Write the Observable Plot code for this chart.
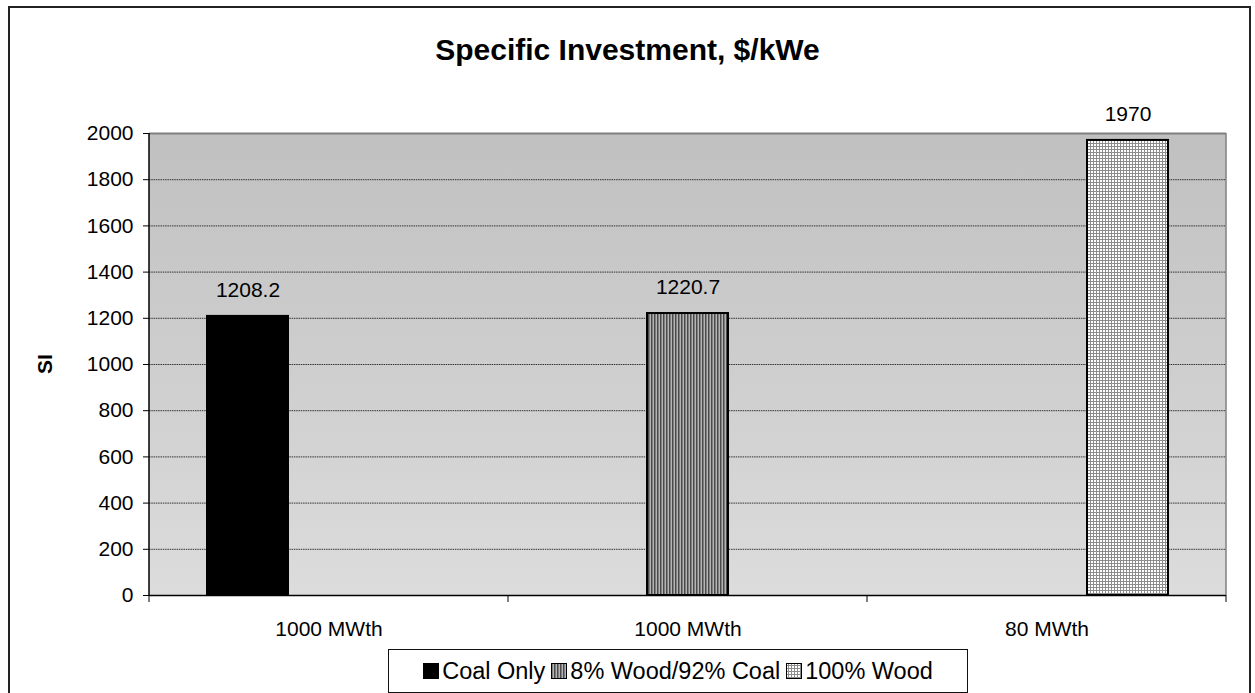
<!DOCTYPE html>
<html>
<head>
<meta charset="utf-8">
<script src="https://cdn.jsdelivr.net/npm/d3@7"></script>
<script src="https://cdn.jsdelivr.net/npm/@observablehq/plot@0.6"></script>
<style>
  body { margin: 0; background: #fff; font-family: "Liberation Sans", Arial, sans-serif; }
  #wrap { position: relative; width: 1255px; height: 693px; overflow: hidden; }
  #chart { position: absolute; left: 0; top: 0; }
  #frame { position: absolute; left: 8px; top: 6px; width: 1239px; height: 690px; border: 2px solid #222; pointer-events: none; }
  #title { position: absolute; left: 0; top: 33px; width: 1255px; text-align: center; font-weight: bold; font-size: 30px; color: #000; }
  #ylab { position: absolute; left: 45px; top: 364px; transform: translate(-50%, -50%) rotate(-90deg); font-weight: bold; font-size: 21px; color: #000; }
  #legend { position: absolute; left: 388px; top: 649px; width: 580px; height: 44px; border: 1px solid #111; box-sizing: border-box;
            display: flex; align-items: center; justify-content: center; font-size: 23.5px; color: #000; background: #fff; }
  .item { display: flex; align-items: center; margin: 0 3px; white-space: nowrap; }
  .item svg { margin-right: 3px; }
</style>
</head>
<body>
<div id="wrap">
  <div id="chart"></div>
  <div id="frame"></div>
  <div id="title">Specific Investment, $/kWe</div>
  <div id="ylab">SI</div>
  <div id="legend"></div>
</div>
<script>
// ---- data ----
const categories = ["1000 MWth", "1000 MWth", "80 MWth"];
const seriesNames = ["Coal Only", "8% Wood/92% Coal", "100% Wood"];
const coalOnly = [1208.2, null, null];
const wood8 = [null, 1220.7, null];
const wood100 = [null, null, 1970];
const yTickValues = [0, 200, 400, 600, 800, 1000, 1200, 1400, 1600, 1800, 2000];

const seriesValues = [coalOnly, wood8, wood100];
const seriesFills = ["#000000", "url(#pat-stripes)", "url(#pat-grid)"];
const catKeys = categories.map((c, i) => i);

const rows = [];
seriesValues.forEach((vals, s) => {
  vals.forEach((v, i) => {
    if (v != null) rows.push({ cat: i, series: seriesNames[s], s, value: v });
  });
});

const yMax = yTickValues[yTickValues.length - 1];

const plot = Plot.plot({
  width: 1255,
  height: 693,
  marginTop: 133,
  marginBottom: 98,
  marginLeft: 148,
  marginRight: 28,
  style: { fontFamily: '"Liberation Sans", Arial, sans-serif', fontSize: "21px", color: "#000", background: "transparent", overflow: "visible" },
  fx: { domain: catKeys, padding: 0, axis: "bottom", tickFormat: i => categories[i], tickSize: 0, tickPadding: 26, label: null },
  x: { domain: seriesNames, paddingInner: 0, paddingOuter: 0.7, axis: null },
  y: { domain: [0, yMax], ticks: yTickValues, tickSize: 6, tickPadding: 10, tickFormat: d => String(d), label: null },
  marks: [
    Plot.ruleY(yTickValues.filter(d => d > 0 && d < yMax), { stroke: "#333", strokeWidth: 1, strokeDasharray: "1.5,0.8" }),
    Plot.ruleY([yMax], { stroke: "#808080", strokeWidth: 2 }),
    ...seriesNames.map((name, s) =>
      Plot.barY(rows.filter(r => r.s === s), { fx: "cat", x: "series", y: "value", fill: seriesFills[s], stroke: "#000", strokeWidth: 2 })
    ),
    Plot.text(rows, { fx: "cat", x: "series", y: "value", text: d => String(d.value), dy: -26, fontSize: 21, fill: "#000" }),
    Plot.ruleY([0], { stroke: "#000", strokeWidth: 1.5 })
  ]
});

document.getElementById("chart").appendChild(plot);

// defs: gradient + patterns
const svg = d3.select(plot);
const defs = svg.insert("defs", ":first-child");
const grad = defs.append("linearGradient").attr("id", "bg-grad").attr("x1", 0).attr("y1", 0).attr("x2", 0).attr("y2", 1);
grad.append("stop").attr("offset", 0).attr("stop-color", "#c0c0c0");
grad.append("stop").attr("offset", 1).attr("stop-color", "#dcdcdc");

const p1 = defs.append("pattern").attr("id", "pat-stripes").attr("patternUnits", "userSpaceOnUse").attr("width", 3).attr("height", 4);
p1.append("rect").attr("width", 3).attr("height", 4).attr("fill", "#b4b4b4");
p1.append("rect").attr("width", 1.5).attr("height", 4).attr("fill", "#4a4a4a");

const p2 = defs.append("pattern").attr("id", "pat-grid").attr("patternUnits", "userSpaceOnUse").attr("width", 3).attr("height", 3);
p2.append("rect").attr("width", 3).attr("height", 3).attr("fill", "#8c8c8c");
p2.append("rect").attr("width", 2).attr("height", 2).attr("fill", "#ffffff");

// structural pieces from the library's scales
const fx = plot.scale("fx");
const ys = plot.scale("y");
const yb = ys.apply(0), yt = ys.apply(yMax);
const lastKey = fx.domain[fx.domain.length - 1];
const bounds = fx.domain.map(d => fx.apply(d)).concat([fx.apply(lastKey) + fx.bandwidth]);
const x0 = bounds[0], x1 = bounds[bounds.length - 1];

// single background rect behind everything
svg.insert("rect", "defs + *")
  .attr("x", x0).attr("y", yt).attr("width", x1 - x0).attr("height", yb - yt)
  .attr("fill", "url(#bg-grad)");

const g = svg.append("g");
// right border (gray)
g.append("line").attr("x1", x1).attr("x2", x1).attr("y1", yt).attr("y2", yb).attr("stroke", "#808080").attr("stroke-width", 1.5);
// left axis line
g.append("line").attr("x1", x0).attr("x2", x0).attr("y1", yt).attr("y2", yb).attr("stroke", "#000").attr("stroke-width", 1.5);
// category boundary ticks
bounds.forEach(b => {
  g.append("line").attr("x1", b).attr("x2", b).attr("y1", yb).attr("y2", yb + 7).attr("stroke", "#000").attr("stroke-width", 1);
});

// legend
const legend = d3.select("#legend");
seriesNames.forEach((name, s) => {
  const item = legend.append("div").attr("class", "item");
  const sw = item.append("svg").attr("width", 16).attr("height", 16);
  sw.append("rect").attr("x", 0.5).attr("y", 0.5).attr("width", 15).attr("height", 15)
    .attr("fill", seriesFills[s]).attr("stroke", "#000").attr("stroke-width", 1);
  item.append("span").text(name);
});
</script>
</body>
</html>
